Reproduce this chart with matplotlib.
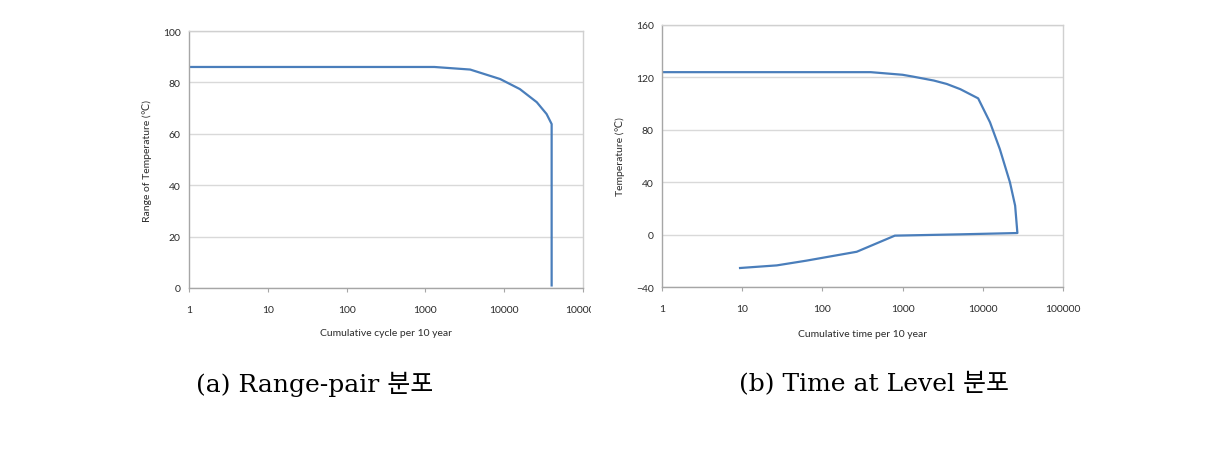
import matplotlib
matplotlib.use("Agg")
import matplotlib.pyplot as plt
from matplotlib.transforms import Bbox

# ---- data ----
# (a) Range-pair distribution
rp_cycles = [1, 1300, 3700, 8900, 15800, 25900, 34500, 40000, 40000]
rp_range = [86, 86, 85, 81.3, 77.4, 72.3, 67.7, 63.8, 1]

# (b) Time at Level distribution
tl_time = [1, 400, 1000, 1350, 2450, 3550, 5250, 8750, 12300, 16300, 21800,
           25300, 27000, 5200, 800, 268, 63, 27, 9.4]
tl_temp = [124, 124, 122, 120.6, 117.6, 115.0, 111.0, 104, 85.7, 65.3, 39.9,
           22.1, 1.2, 0.2, -0.8, -13.1, -19.9, -23.5, -25.5]

x_ticks = [1, 10, 100, 1000, 10000, 100000]
x_ticklabels = ["1", "10", "100", "1000", "10000", "100000"]
a_yticks = [0, 20, 40, 60, 80, 100]
b_yticks = [-40, 0, 40, 80, 120, 160]

captions = ["(a) Range-pair 분포", "(b) Time at Level 분포"]
xlabels = ["Cumulative cycle per 10 year", "Cumulative time per 10 year"]
ylabels = ["Range of Temperature (℃)", "Temperature (℃)"]

LINE = "#4a7ebb"
TXT = "#2b2b2b"
FONT = ["Lato", "DejaVu Sans"]
CAPFONT = ["DejaVu Serif", "Noto Sans CJK KR"]

fig = plt.figure(figsize=(12.1, 4.52), dpi=100)
W, H = 1210, 452

def ax_at(l, t, r, b):
    return fig.add_axes([l / W, 1 - b / H, (r - l) / W, (b - t) / H])

ax1 = ax_at(189, 32, 583, 289)
ax2 = ax_at(662, 26, 1063, 288)

def style(ax, yticks, ylim):
    ax.set_xscale("log")
    ax.set_xlim(1, 100000)
    ax.set_ylim(*ylim)
    ax.set_xticks(x_ticks)
    ax.set_xticklabels(x_ticklabels)
    ax.xaxis.set_minor_locator(matplotlib.ticker.NullLocator())
    ax.set_yticks(yticks)
    ax.grid(axis="y", color="#d9d9d9", linewidth=1.0)
    ax.set_axisbelow(True)
    for s in ["top", "right"]:
        ax.spines[s].set_color("#d0d0d0")
        ax.spines[s].set_linewidth(1.0)
    for s in ["left", "bottom"]:
        ax.spines[s].set_color("#a6a6a6")
        ax.spines[s].set_linewidth(1.0)
    ax.tick_params(axis="both", length=3, width=0.8, color="#a6a6a6",
                   labelsize=7.5, labelcolor=TXT, pad=9)
    ax.tick_params(axis="y", pad=6, length=0)
    for lab in ax.get_xticklabels() + ax.get_yticklabels():
        lab.set_family(FONT)

style(ax1, a_yticks, (0, 100))
style(ax2, b_yticks, (-40, 160))

ax1.plot(rp_cycles, rp_range, color=LINE, linewidth=1.6, solid_joinstyle="round")
ax2.plot(tl_time, tl_temp, color=LINE, linewidth=1.6, solid_joinstyle="round")

ax1.set_xlabel(xlabels[0], fontsize=7.5, color=TXT, family=FONT, labelpad=10)
ax1.set_ylabel(ylabels[0], fontsize=7.5, color=TXT, family=FONT, labelpad=8)
ax2.set_xlabel(xlabels[1], fontsize=7.5, color=TXT, family=FONT, labelpad=12)
ax2.set_ylabel(ylabels[1], fontsize=7.5, color=TXT, family=FONT, labelpad=8)

# the original left panel is cropped at its right edge
last = ax1.get_xticklabels()[-1]
last.set_clip_on(True)
last.set_clip_box(Bbox.from_extents(0, 0, 591, H))

fig.text(315 / W, 1 - 384 / H, captions[0], ha="center", va="center",
         fontsize=18, family=CAPFONT, color="black")
fig.text(874 / W, 1 - 384 / H, captions[1], ha="center", va="center",
         fontsize=18, family=CAPFONT, color="black")

fig.savefig("out.png", dpi=100)
